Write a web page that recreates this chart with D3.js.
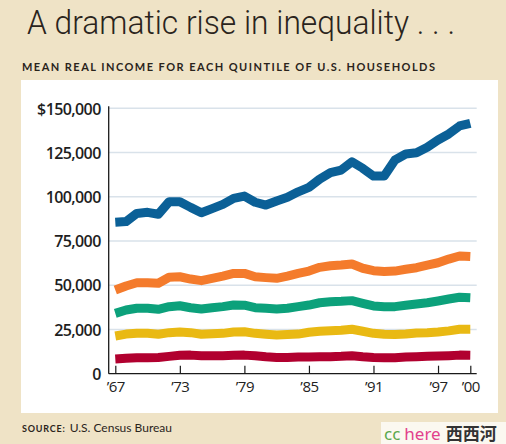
<!DOCTYPE html>
<html><head><meta charset="utf-8">
<script src="https://cdn.jsdelivr.net/npm/d3@7"></script>
<style>
html,body{margin:0;padding:0;background:#efe3c6;}
svg{display:block;}
</style></head>
<body>
<script>
const years = d3.range(1967, 2001);
const top20 = [85600,86000,90600,91200,90100,97200,97200,94000,91000,93300,95700,99100,100400,96900,95300,97600,99700,102800,105300,110000,113600,115100,119800,116100,111700,111700,120800,124200,124900,128000,132100,135500,140000,141500];
const fourth = [47300,49600,51400,51400,51100,54500,54800,53500,52600,53900,55200,56700,56700,54800,54300,53900,55200,56700,58000,60100,61000,61400,62000,59600,58200,57700,58000,59000,59900,61400,62700,64800,66500,66200];
const middle = [34100,36000,37000,37000,36400,37900,38400,37300,36600,37300,37900,38800,38700,37300,37000,36600,37000,37900,38800,40100,40700,40900,41300,39800,38300,37900,37900,38700,39400,40100,41100,42200,43200,42900];
const second = [21300,22400,22800,22800,22300,23200,23600,23200,22300,22600,22800,23600,23700,22800,22300,21900,22100,22400,23400,24000,24300,24500,25100,24000,22800,22300,22100,22400,23000,23200,23600,24200,25100,25100];
const bottom = [8300,8700,9000,9000,9200,9800,10400,10500,10200,10200,10200,10400,10500,10200,9600,9200,9200,9400,9400,9600,9600,9800,10200,9600,9200,9000,9000,9400,9600,9800,10000,10200,10500,10400];
const seriesNames = ["Top fifth","Fourth fifth","Middle fifth","Second fifth","Bottom fifth"];
const seriesValues = [top20, fourth, middle, second, bottom];
const seriesColors = ["#0b6097","#f47b2c","#0ca17b","#e9b913","#b1002f"];
const yTicks = [0,25000,50000,75000,100000,125000,150000];
const yTickLabels = ["0","25,000","50,000","75,000","100,000","125,000","$150,000"];
const xTicks = [1967,1973,1979,1985,1991,1997,2000];
const xTickLabels = ["\u201967","\u201973","\u201979","\u201985","\u201991","\u201997","\u201900"];

const W = 506, H = 444;
const svg = d3.select("body").append("svg").attr("width", W).attr("height", H);
svg.append("rect").attr("width", W).attr("height", H).attr("fill", "#efe3c6");

// title
svg.append("text").attr("x", 27).attr("y", 34)
  .attr("font-family", "Roboto").attr("font-weight", 300).attr("font-size", 34)
  .attr("fill", "#2a241c").attr("textLength", 428).attr("lengthAdjust", "spacingAndGlyphs")
  .text("A dramatic rise in inequality . . .");
svg.append("text").attr("x", 22).attr("y", 71)
  .attr("font-family", "Lato").attr("font-weight", 700).attr("font-size", 11)
  .attr("fill", "#2a241c").attr("textLength", 413).attr("lengthAdjust", "spacing")
  .text("MEAN REAL INCOME FOR EACH QUINTILE OF U.S. HOUSEHOLDS");

// white panel
svg.append("rect").attr("x", 21).attr("y", 80).attr("width", 477).attr("height", 333).attr("fill", "#ffffff");

const x = d3.scaleLinear().domain([1967, 2000]).range([115.3, 470.3]);
const y = d3.scaleLinear().domain([0, 150000]).range([373.7, 108.3]);
const x0 = 108.7, x1 = 476.7;

// gridlines
svg.append("g").selectAll("line").data(yTicks.filter(d => d > 0)).join("line")
  .attr("x1", x0).attr("x2", x1).attr("y1", d => y(d)).attr("y2", d => y(d))
  .attr("stroke", "#d9e2ea").attr("stroke-width", 1.6);

// lines
const line = d3.line().x((d, i) => x(years[i])).y(d => y(d)).curve(d3.curveLinear);
svg.append("g").selectAll("path").data(seriesValues).join("path")
  .attr("d", d => line(d)).attr("fill", "none")
  .attr("stroke", (d, i) => seriesColors[i]).attr("stroke-width", 9)
  .attr("stroke-linejoin", "round").attr("stroke-linecap", "butt");

// axes
const yAxis = d3.axisLeft(y).tickValues(yTicks).tickFormat((d, i) => yTickLabels[i]).tickSize(0).tickPadding(8);
const gy = svg.append("g").attr("transform", `translate(${x0},0)`).call(yAxis);
gy.select(".domain").attr("stroke", "#1a1a1a").attr("stroke-width", 1.3).attr("d", `M0,${y(0)}V${y(150000)-2}`);
gy.selectAll("text").attr("font-family", "Open Sans").attr("font-weight", 600).attr("font-size", 16)
  .attr("letter-spacing", -0.6).attr("fill", "#1e1e1e").attr("dy", "0.36em");

const xAxis = d3.axisBottom(x).tickValues(xTicks).tickFormat((d, i) => xTickLabels[i]).tickSize(-8).tickPadding(10);
const gx = svg.append("g").attr("transform", `translate(0,${y(0)})`).call(xAxis);
gx.select(".domain").attr("stroke", "#1a1a1a").attr("stroke-width", 1.3).attr("d", `M${x0},0H${x1}`);
gx.selectAll(".tick line").attr("stroke", "#1a1a1a").attr("stroke-width", 1.2);
gx.selectAll("text").attr("font-family", "Open Sans").attr("font-weight", 400).attr("font-size", 15)
  .attr("fill", "#222").attr("letter-spacing", -0.5).attr("dy", "0.55em");

// source
const src = svg.append("text").attr("x", 22).attr("y", 432).attr("fill", "#2a241c").attr("font-family", "Lato");
src.append("tspan").attr("font-size", 9).attr("font-weight", 700).attr("letter-spacing", 0.8).text("SOURCE:");
src.append("tspan").attr("font-size", 12).attr("dx", 4).text("U.S. Census Bureau");

// watermark
svg.append("rect").attr("x", 381).attr("y", 422).attr("width", 125).attr("height", 22).attr("fill", "#fbf8f0");
const wm = svg.append("text").attr("x", 384).attr("y", 440).attr("font-size", 17).attr("font-family", "Noto Sans");
wm.append("tspan").attr("fill", "#5aa84c").text("cc");
wm.append("tspan").attr("fill", "#e2408c").attr("dx", 4).text("here");
wm.append("tspan").attr("fill", "#333").attr("dx", 5).attr("font-family", "Noto Sans CJK SC").attr("font-weight", 700).text("西西河");
</script>
</body></html>
